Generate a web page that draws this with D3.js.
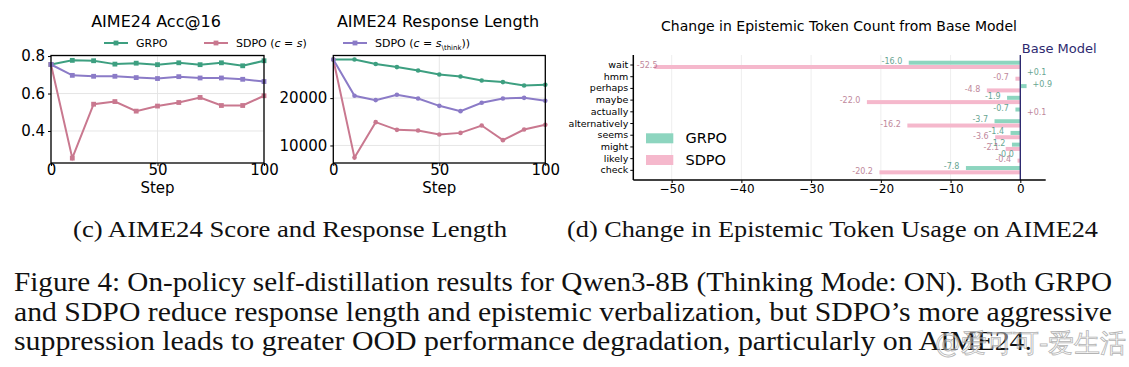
<!DOCTYPE html>
<html>
<head>
<meta charset="utf-8">
<script src="https://cdn.jsdelivr.net/npm/d3@7"></script>
<style>
  body { margin: 0; background: #fff; }
  text { font-family: "DejaVu Sans", sans-serif; }
  .cap { font-family: "Liberation Serif", "DejaVu Serif", serif; fill: #111; }
</style>
</head>
<body>
<svg id="fig" width="1129" height="367"></svg>
<script>
// data
const steps = [0, 10, 20, 30, 40, 50, 60, 70, 80, 90, 100];
const accGRPO = [0.755, 0.777, 0.775, 0.757, 0.762, 0.754, 0.764, 0.754, 0.764, 0.748, 0.775];
const accSDPO = [0.755, 0.255, 0.543, 0.557, 0.506, 0.533, 0.552, 0.579, 0.536, 0.536, 0.588];
const accSDPOThink = [0.755, 0.697, 0.692, 0.692, 0.685, 0.680, 0.690, 0.683, 0.683, 0.676, 0.664];
const lenGRPO = [28160, 28160, 27190, 26550, 25840, 24990, 24570, 23720, 23380, 22660, 22810];
const lenSDPO = [28160, 7440, 14930, 13300, 13150, 12310, 12660, 14210, 11120, 13370, 14360];
const lenSDPOThink = [28160, 20490, 19580, 20700, 19920, 18370, 17250, 19010, 19920, 20060, 19430];

const tokens = ["wait", "hmm", "perhaps", "maybe", "actually", "alternatively", "seems", "might", "likely", "check"];
const tokGRPO = [-16.0, 0.1, 0.9, -1.9, -0.7, -3.7, -1.4, -1.2, -0.0, -7.8];
const tokSDPO = [-52.5, -0.7, -4.8, -22.0, 0.1, -16.2, -3.6, -2.1, -0.4, -20.2];

const accTicks = [0.4, 0.6, 0.8];
const lenTicks = [10000, 20000];
const stepTicks = [0, 50, 100];
const tokTicks = [-50, -40, -30, -20, -10, 0];

const cGRPO = "#3d9f80", cSDPO = "#c9788f", cThink = "#8b7bc7";
const barGRPO = "#8dd5bf", barSDPO = "#f5b8cc", navy = "#2e2a70";

const svg = d3.select("#fig");

// ---------- line panels ----------
function linePanel(x0, x1, ydom, yticks, series, title, titleX, marker) {
  let x = d3.scaleLinear().domain([0, 100]).range([x0, x1]);
  let y = d3.scaleLinear().domain(ydom).range([163, 55.5]);
  let g = svg.append("g");

  g.selectAll(".gx").data(stepTicks).join("line")
    .attr("x1", d => x(d)).attr("x2", d => x(d)).attr("y1", 55.5).attr("y2", 163)
    .attr("stroke", "#e3e3e3").attr("stroke-width", 0.9);
  g.selectAll(".gy").data(yticks).join("line")
    .attr("x1", x0).attr("x2", x1).attr("y1", d => y(d)).attr("y2", d => y(d))
    .attr("stroke", "#e3e3e3").attr("stroke-width", 0.9);

  let line = d3.line().x((d, i) => x(steps[i])).y(d => y(d));
  series.forEach(s => {
    g.append("path").attr("d", line(s.v)).attr("fill", "none")
      .attr("stroke", s.c).attr("stroke-width", 2);
    if (marker == "square") {
      g.selectAll(null).data(s.v).join("rect")
        .attr("x", (d, i) => x(steps[i]) - 2.4).attr("y", d => y(d) - 2.4)
        .attr("width", 4.8).attr("height", 4.8).attr("fill", s.c);
    } else {
      g.selectAll(null).data(s.v).join("circle")
        .attr("cx", (d, i) => x(steps[i])).attr("cy", d => y(d)).attr("r", 2.3).attr("fill", s.c);
    }
  });

  g.append("rect").attr("x", x0).attr("y", 55.5).attr("width", x1 - x0).attr("height", 163 - 55.5)
    .attr("fill", "none").attr("stroke", "#000").attr("stroke-width", 1.3);

  let xa = g.append("g").attr("transform", "translate(0,163)")
    .call(d3.axisBottom(x).tickValues(stepTicks).tickFormat(d3.format("d")).tickSize(3).tickPadding(-1.5));
  xa.select(".domain").remove();
  xa.selectAll("text").attr("font-size", 15).attr("fill", "#000");
  let ya = g.append("g").attr("transform", `translate(${x0},0)`)
    .call(d3.axisLeft(y).tickValues(yticks).tickFormat(d3.format("")).tickSize(3).tickPadding(3));
  ya.select(".domain").remove();
  ya.selectAll("text").attr("font-size", 15).attr("fill", "#000");

  g.append("text").attr("x", (x0 + x1) / 2).attr("y", 193).attr("text-anchor", "middle")
    .attr("font-size", 15).text("Step");
  g.append("text").attr("x", titleX).attr("y", 27).attr("text-anchor", "middle")
    .attr("font-size", 16).text(title);
}

linePanel(51, 264, [0.229, 0.803], accTicks,
  [{v: accGRPO, c: cGRPO}, {v: accSDPO, c: cSDPO}, {v: accSDPOThink, c: cThink}],
  "AIME24 Acc@16", 156, "square");
linePanel(333.3, 545.3, [6300, 29000], lenTicks,
  [{v: lenGRPO, c: cGRPO}, {v: lenSDPO, c: cSDPO}, {v: lenSDPOThink, c: cThink}],
  "AIME24 Response Length", 438, "circle");

// legend over both line panels
const leg = [
  {x: 104, c: cGRPO, parts: [["GRPO", ""]]},
  {x: 204, c: cSDPO, parts: [["SDPO (", ""], ["c", "i"], [" = ", ""], ["s", "i"], [")", ""]]},
  {x: 343, c: cThink, parts: [["SDPO (", ""], ["c", "i"], [" = ", ""], ["s", "i"], ["\\think", "sub"], [")", "up"], [")", ""]]}
];
leg.forEach(l => {
  svg.append("line").attr("x1", l.x).attr("x2", l.x + 24).attr("y1", 43).attr("y2", 43)
    .attr("stroke", l.c).attr("stroke-width", 2);
  svg.append("rect").attr("x", l.x + 9.6).attr("y", 40.6).attr("width", 4.8).attr("height", 4.8).attr("fill", l.c);
  let t = svg.append("text").attr("x", l.x + 32).attr("y", 47).attr("font-size", 11);
  l.parts.forEach(p => {
    let ts = t.append("tspan").text(p[0]);
    if (p[1] == "i") ts.attr("font-style", "italic");
    if (p[1] == "sub") ts.attr("font-size", 7).attr("dy", 2.5);
    if (p[1] == "up") ts.attr("dy", -2.5);
  });
});

// ---------- bar panel ----------
const xb = d3.scaleLinear().domain([-55.5, 3.64]).range([633.3, 1045.7]);
const yb = d3.scaleBand().domain(tokens).range([59.15, 176.2]);
const bg = svg.append("g");

bg.selectAll(".grid").data(tokTicks).join("line")
  .attr("x1", d => xb(d)).attr("x2", d => xb(d)).attr("y1", 55).attr("y2", 180)
  .attr("stroke", "#ececec").attr("stroke-width", 0.9);

const barH = 4;
const rows = tokens.map((t, i) => ({t: t, g: tokGRPO[i], s: tokSDPO[i]}));
bg.selectAll(".bg").data(rows).join("rect")
  .attr("x", d => xb(Math.min(0, d.g))).attr("width", d => Math.abs(xb(d.g) - xb(0)))
  .attr("y", d => yb(d.t) + yb.bandwidth() / 2 - barH - 0.3).attr("height", barH).attr("fill", barGRPO);
bg.selectAll(".bs").data(rows).join("rect")
  .attr("x", d => xb(Math.min(0, d.s))).attr("width", d => Math.abs(xb(d.s) - xb(0)))
  .attr("y", d => yb(d.t) + yb.bandwidth() / 2).attr("height", barH).attr("fill", barSDPO);

function valLabel(v, cy, col) {
  let neg = v < 0 || Object.is(v, -0);
  let tx = neg ? xb(v) - 6.5 : xb(v) + 6;
  let anchor = neg ? "end" : "start";
  // label that would run past the left spine is pinned inside it
  if (neg && tx - 22 < xb.range()[0]) { tx = xb.range()[0] + 3.5; anchor = "start"; }
  bg.append("text")
    .attr("x", tx).attr("y", cy).attr("dominant-baseline", "central")
    .attr("text-anchor", anchor)
    .attr("font-size", 8).attr("fill", col).attr("opacity", 0.8)
    .text((neg ? "-" : "+") + Math.abs(v).toFixed(1));
}
rows.forEach(d => {
  let c = yb(d.t) + yb.bandwidth() / 2;
  valLabel(d.g, c - 3.8, "#3f8f77");
  valLabel(d.s, c + 0.8, "#b06a84");
});

// zero line + label
bg.append("line").attr("x1", xb(0)).attr("x2", xb(0)).attr("y1", 55).attr("y2", 180)
  .attr("stroke", navy).attr("stroke-width", 1.4);
bg.append("text").attr("x", xb(0) + 1.5).attr("y", 53).attr("font-size", 13).attr("fill", navy).text("Base Model");

// axes
const bxa = bg.append("g").attr("transform", "translate(0,180)")
  .call(d3.axisBottom(xb).tickValues(tokTicks).tickFormat(d => d < 0 ? "\u2212" + Math.abs(d) : d).tickSize(3).tickPadding(1));
bxa.select(".domain").attr("stroke-width", 1.5).attr("d", `M633.3,0H1045.7`);
bxa.selectAll("text").attr("font-size", 12).attr("fill", "#000");
const bya = bg.append("g").attr("transform", "translate(633.3,0)")
  .call(d3.axisLeft(yb).tickSize(3).tickPadding(2));
bya.select(".domain").attr("stroke-width", 1.5).attr("d", "M0,55V180");
bya.selectAll("text").attr("font-size", 9.5).attr("fill", "#000");

bg.append("text").attr("x", 839).attr("y", 31).attr("text-anchor", "middle").attr("font-size", 14)
  .text("Change in Epistemic Token Count from Base Model");

// legend
[["GRPO", barGRPO, 133.3], ["SDPO", barSDPO, 155]].forEach(l => {
  bg.append("rect").attr("x", 646).attr("y", l[2]).attr("width", 27.3).attr("height", 10).attr("fill", l[1]);
  bg.append("text").attr("x", 685.5).attr("y", l[2] + 10).attr("font-size", 14.5).text(l[0]);
});

// ---------- captions ----------
svg.append("text").attr("class", "cap").attr("x", 73).attr("y", 237).attr("font-size", 23.5)
  .attr("textLength", 434).attr("lengthAdjust", "spacingAndGlyphs")
  .text("(c) AIME24 Score and Response Length");
svg.append("text").attr("class", "cap").attr("x", 567).attr("y", 237).attr("font-size", 23.5)
  .attr("textLength", 531).attr("lengthAdjust", "spacingAndGlyphs")
  .text("(d) Change in Epistemic Token Usage on AIME24");

const figLines = [
  ["Figure 4: On-policy self-distillation results for Qwen3-8B (Thinking Mode: ON). Both GRPO", 1098],
  ["and SDPO reduce response length and epistemic verbalization, but SDPO\u2019s more aggressive", 1098],
  ["suppression leads to greater OOD performance degradation, particularly on AIME24.", 1018]
];
figLines.forEach((l, i) => {
  svg.append("text").attr("class", "cap").attr("x", 14).attr("y", 291 + i * 29.5).attr("font-size", 27)
    .attr("textLength", l[1]).attr("lengthAdjust", "spacingAndGlyphs").text(l[0]);
});

// watermark
svg.append("text").attr("x", 935).attr("y", 352).attr("font-size", 26)
  .attr("font-family", "Noto Sans CJK SC")
  .attr("fill", "#fff").attr("fill-opacity", 0.6).attr("stroke", "#9a9a9a").attr("stroke-width", 0.8)
  .attr("opacity", 0.75).text("@爱可可-爱生活");
</script>
</body>
</html>
